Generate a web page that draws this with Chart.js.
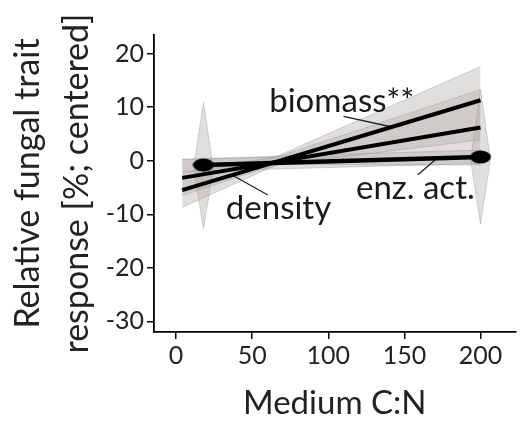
<!DOCTYPE html>
<html>
<head>
<meta charset="utf-8">
<script src="https://cdn.jsdelivr.net/npm/chart.js@4.4.1/dist/chart.umd.min.js"></script>
<style>
  html, body { margin: 0; padding: 0; background: #fff; }
  #wrap { width: 528px; height: 421px; }
</style>
</head>
<body>
<div id="wrap"><canvas id="myChart" width="528" height="421"></canvas></div>
<script>
// fitted lines (Medium C:N vs response)
var lineX = [4, 200];
var biomassY = [-5.5, 11.3];
var densityY = [-3.2, 6.2];
var enzX = [18, 200];
var enzY = [-0.8, 0.7];

// confidence bands
var bandX = [4, 66, 200];
var biomassHi = [-2.3, 0.8, 17.6];
var biomassLo = [-8.7, -0.8, 3.9];
var densityHi = [0.2, 0.7, 13.3];
var densityLo = [-6.5, -0.7, -0.8];
var enzBandX = [4, 200];
var enzHi = [0.3, 2.0];
var enzLo = [-2.0, -0.5];

// vertical error diamonds of enz. act.
var diaLeftX = [11.5, 18, 24.5];
var diaLeftHi = [-1.5, 10.9, -1.5];
var diaLeftLo = [-1.5, -12.7, -1.5];
var diaRightX = [193.5, 200, 206.5];
var diaRightHi = [0.2, 13.3, 0.2];
var diaRightLo = [0.2, -11.8, 0.2];

// labels and leader lines
var labelText = ["biomass**", "density", "enz. act."];
var labelX = [61.2, 32.7, 118.2];
var labelY = [9.2, -10.8, -7.1];
var leaderX = [[110, 140.4], [37.1, 60.3], [158.9, 170.3]];
var leaderY = [[8.3, 6.4], [-2.7, -6.4], [-2.6, 0.2]];

var xTicks = [0, 50, 100, 150, 200];
var yTicks = [-30, -20, -10, 0, 10, 20];

function pts(xs, ys) {
  return xs.map(function (x, i) { return { x: x, y: ys[i] }; });
}

var band = "rgba(172,165,163,0.36)";
var bandEdge = "rgba(140,135,135,0.45)";

// ellipse marker
var ell = document.createElement("canvas");
ell.width = 22;
ell.height = 14;
var ectx = ell.getContext("2d");
ectx.fillStyle = "#000";
ectx.beginPath();
ectx.ellipse(11, 7, 10.5, 6.5, 0, 0, Math.PI * 2);
ectx.fill();

function bandPair(xs, hi, lo) {
  return [
    { data: pts(xs, hi), borderColor: bandEdge, borderWidth: 0.8, backgroundColor: band, fill: "+1", pointRadius: 0, order: 10 },
    { data: pts(xs, lo), borderColor: bandEdge, borderWidth: 0.8, backgroundColor: band, fill: false, pointRadius: 0, order: 10 }
  ];
}

var datasets = [];
datasets.push({ data: pts(lineX, biomassY), borderColor: "#000", borderWidth: 4, pointRadius: 0, fill: false, order: 1 });
datasets.push({ data: pts(lineX, densityY), borderColor: "#000", borderWidth: 4, pointRadius: 0, fill: false, order: 1 });
datasets.push({ data: pts(enzX, enzY), borderColor: "#000", borderWidth: 4.5, pointStyle: ell, pointRadius: 8, fill: false, order: 0 });
leaderX.forEach(function (xs, i) {
  datasets.push({ data: pts(xs, leaderY[i]), borderColor: "#222", borderWidth: 1.3, pointRadius: 0, fill: false, order: 2 });
});
datasets = datasets
  .concat(bandPair(bandX, biomassHi, biomassLo))
  .concat(bandPair(bandX, densityHi, densityLo))
  .concat(bandPair(enzBandX, enzHi, enzLo))
  .concat(bandPair(diaLeftX, diaLeftHi, diaLeftLo))
  .concat(bandPair(diaRightX, diaRightHi, diaRightLo));

var labelsPlugin = {
  id: "labels",
  afterDatasetsDraw: function (chart) {
    var c = chart.ctx;
    var xs = chart.scales.x, ys = chart.scales.y;
    c.save();
    c.font = "33px Lato";
    c.fillStyle = "#1a1a1a";
    c.textAlign = "left";
    c.textBaseline = "alphabetic";
    labelText.forEach(function (t, i) {
      c.fillText(t, xs.getPixelForValue(labelX[i]), ys.getPixelForValue(labelY[i]));
    });
    c.restore();
  }
};

var tickFont = { family: "Lato", size: 25 };

var ctx = document.getElementById("myChart").getContext("2d");
var chart = new Chart(ctx, {
  type: "line",
  data: { datasets: datasets },
  options: {
    responsive: false,
    animation: false,
    devicePixelRatio: 1,
    layout: { padding: { top: 35, right: 0, left: 0, bottom: 0 } },
    plugins: { legend: { display: false }, tooltip: { enabled: false } },
    scales: {
      x: {
        type: "linear",
        min: -14.5,
        max: 223,
        afterBuildTicks: function (s) { s.ticks = xTicks.map(function (v) { return { value: v }; }); },
        afterFit: function (s) { s.height = 89; },
        grid: { drawOnChartArea: false, tickLength: 7, color: "#000", lineWidth: 1.5 },
        border: { color: "#000", width: 1.8 },
        ticks: { font: tickFont, color: "#222", padding: 2, maxRotation: 0 },
        title: { display: true, text: "Medium C:N", font: { family: "Lato", size: 33 }, color: "#222", padding: { top: 0, bottom: -2 } }
      },
      y: {
        min: -32,
        max: 23.5,
        afterBuildTicks: function (s) { s.ticks = yTicks.map(function (v) { return { value: v }; }); },
        afterFit: function (s) { s.width = 154; },
        grid: { drawOnChartArea: false, tickLength: 7, color: "#000", lineWidth: 1.5 },
        border: { color: "#000", width: 1.8 },
        ticks: { font: tickFont, color: "#222", padding: 3 },
        title: {
          display: true,
          text: ["Relative fungal trait", "response [%; centered]"],
          font: { family: "Lato", size: 34, lineHeight: 1.44 },
          color: "#222",
          padding: { top: 3.5, bottom: 0 }
        }
      }
    }
  },
  plugins: [labelsPlugin]
});
</script>
</body>
</html>
